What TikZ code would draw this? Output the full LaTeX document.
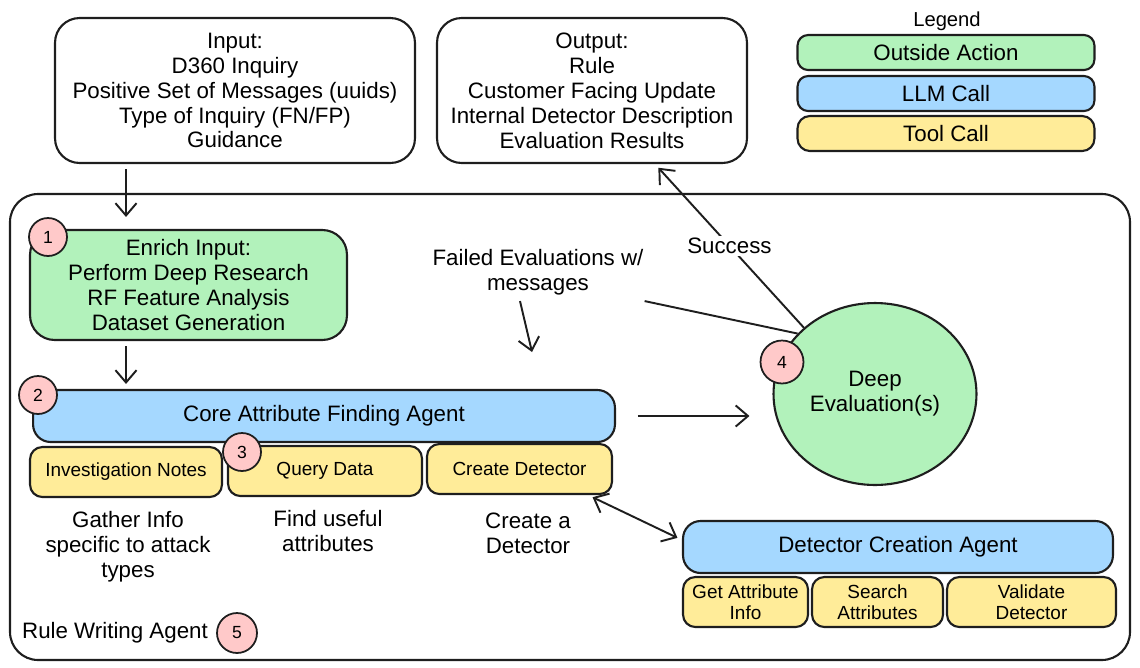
\documentclass[tikz,border=0pt]{standalone}
\usepackage{fontspec}
\setmainfont{Liberation Sans}
\usepackage{tikz}
\usetikzlibrary{positioning, arrows.meta, shapes.geometric, calc}
\usepackage{xcolor}
\definecolor{outsidecolor}{RGB}{178, 242, 187}
\definecolor{llmcolor}{RGB}{165, 216, 255}
\definecolor{toolcolor}{RGB}{255, 236, 153}
\definecolor{badgecolor}{RGB}{255, 201, 201}
\definecolor{inkcolor}{RGB}{30, 30, 30}

\tikzset{
  box/.style={draw=inkcolor, line width=1.2pt, rounded corners=10pt, align=center,
              font=\fontsize{12.7}{14.2}\selectfont, inner sep=2pt},
  outsidebox/.style={box, fill=outsidecolor},
  llmbox/.style={box, fill=llmcolor},
  toolbox/.style={box, fill=toolcolor, rounded corners=7pt, font=\fontsize{10.8}{11.8}\selectfont},
  badge/.style={draw=inkcolor, line width=1pt, circle, fill=badgecolor, minimum size=0.76cm,
                inner sep=0pt, font=\fontsize{10}{12}\selectfont},
  note/.style={align=center, font=\fontsize{12.7}{14.2}\selectfont},
  arr/.style={draw=inkcolor, line width=1.1pt, -{Straight Barb[length=7pt, width=12pt]}},
  twoway/.style={draw=inkcolor, line width=1.1pt,
                 {Straight Barb[length=7pt, width=12pt]}-{Straight Barb[length=7pt, width=12pt]}},
  link/.style={draw=inkcolor, line width=1.1pt}
}

\begin{document}
\begin{tikzpicture}[x=0.02cm, y=-0.02cm]
  \useasboundingbox (0,0) rectangle (1140,667);

  \node[box, minimum width=7.2cm, minimum height=2.9cm, rounded corners=14pt] (input) at (235,90.5)
       {Input:\\D360 Inquiry\\Positive Set of Messages (uuids)\\Type of Inquiry (FN/FP)\\Guidance};
  \node[box, minimum width=6.2cm, minimum height=2.9cm, rounded corners=14pt] (output) at (592,90.5)
       {Output:\\Rule\\Customer Facing Update\\Internal Detector Description\\Evaluation Results};

  \node[note, font=\fontsize{11.5}{13}\selectfont] (legend) at (947,21) {Legend};
  \node[outsidebox, minimum width=5.94cm, minimum height=0.7cm, rounded corners=6pt] (legout) at (946,52.5) {Outside Action};
  \node[llmbox, minimum width=5.94cm, minimum height=0.7cm, rounded corners=6pt] (legllm) at (946,93.5) {LLM Call};
  \node[toolbox, minimum width=5.94cm, minimum height=0.7cm, font=\fontsize{12.7}{14.2}\selectfont] (legtool) at (946,133.5) {Tool Call};

  \draw[draw=inkcolor, line width=1.2pt, rounded corners=16pt] (10,194) rectangle (1130,660);

  \node[outsidebox, minimum width=6.34cm, minimum height=2.2cm, rounded corners=14pt] (enrich) at (188.5,285)
       {Enrich Input:\\Perform Deep Research\\RF Feature Analysis\\Dataset Generation};
  \node[llmbox, minimum width=11.64cm, minimum height=1.04cm] (core) at (324,416) {Core Attribute Finding Agent};
  \node[toolbox, minimum width=3.84cm, minimum height=1cm] (notes) at (126,472) {Investigation Notes};
  \node[toolbox, minimum width=3.88cm, minimum height=1cm] (query) at (325,471) {Query Data};
  \node[toolbox, minimum width=3.7cm, minimum height=1cm] (create) at (519.5,469) {Create Detector};

  \node[note] (gather) at (128,547) {Gather Info\\specific to attack\\types};
  \node[note] (useful) at (328,531) {Find useful\\attributes};
  \node[note] (createa) at (528,533) {Create a\\Detector};

  \node[ellipse, draw=inkcolor, line width=1.2pt, fill=outsidecolor, minimum width=4.06cm, minimum height=3.64cm,
        align=center, font=\fontsize{12.7}{14.2}\selectfont] (eval) at (875,394) {Deep\\Evaluation(s)};
  \node[note] (failed) at (538,272) {Failed Evaluations w/\\messages};
  \coordinate (failin) at (532,352);

  \node[llmbox, minimum width=8.6cm, minimum height=1.04cm] (dca) at (898,547) {Detector Creation Agent};
  \node[toolbox, minimum width=2.5cm, minimum height=1cm] (getattr) at (745.5,602) {Get Attribute\\Info};
  \node[toolbox, minimum width=2.62cm, minimum height=1cm] (search) at (877.5,602) {Search\\Attributes};
  \node[toolbox, minimum width=3.38cm, minimum height=1cm] (validate) at (1031.5,602) {Validate\\Detector};

  \node[note] (rwa) at (115,633) {Rule Writing Agent};

  \node[badge] (b1) at (48,237) {1};
  \node[badge] (b2) at (38,395) {2};
  \node[badge] (b3) at (242,452) {3};
  \node[badge, minimum size=0.86cm] (b4) at (782,362) {4};
  \node[badge, minimum size=0.8cm] (b5) at (237,633) {5};

  \draw[arr, shorten <=0.1cm, shorten >=0.24cm] (input.south -| notes) -- (enrich.north -| notes);
  \draw[arr, shorten <=0.1cm, shorten >=0.1cm] (enrich.south -| notes) -- (core.north -| notes);
  \draw[arr, shorten <=0.44cm, shorten >=0.46cm] (core.east) -- (core.east -| eval.west);
  \draw[link] (eval.142) -- ([xshift=-0.1cm]failed.south east);
  \draw[arr] ([xshift=-0.36cm]failed.south) -- (failin);
  \draw[arr, shorten >=0.1cm] (eval.137) -- node[fill=white, font=\fontsize{12.7}{14.2}\selectfont, inner sep=1pt] (success) {Success}
       ([xshift=1.26cm]output.south);
  \draw[twoway, shorten <=0.1cm, shorten >=0.1cm]
       ([xshift=-0.5cm]create.south east) -- ([yshift=0.14cm]dca.west);
\end{tikzpicture}
\end{document}
